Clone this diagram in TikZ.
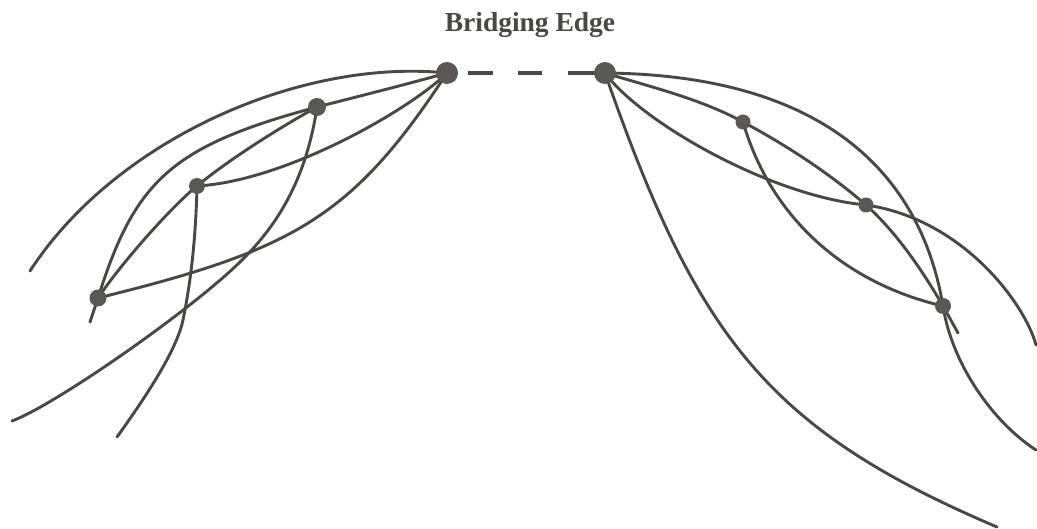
\documentclass[tikz,border=0pt]{standalone}
\usepackage{fontspec}
\setmainfont{Liberation Serif}
\pgfdeclarelayer{bg}
\pgfsetlayers{bg,main}
\definecolor{ink}{HTML}{4A4744}
\definecolor{dotc}{HTML}{5A5754}
\begin{document}
\begin{tikzpicture}[x=1pt,y=-1pt,
  curve/.style={draw=ink, line width=2.9pt, line cap=round},
  dot/.style={circle, fill=dotc, inner sep=0pt, minimum size=#1},
  dot/.default=16pt,
  bridge/.style={draw=ink, line width=4pt, dash pattern={on 0pt off 21pt on 25pt off 25pt on 24pt off 26pt on 60pt}}]
\useasboundingbox (0,0) rectangle (1037,529);

\node[font=\bfseries\fontsize{27.5}{30}\selectfont, text=ink, anchor=base] (title) at (530,32) {Bridging Edge};

% left cluster
\node[dot=22pt] (hubL) at (447,73) {};
\node[dot=18pt] (A) at (317,107) {};
\node[dot=16pt] (B) at (197,186) {};
\node[dot=17pt] (C) at (98,298) {};
% right cluster
\node[dot=22pt] (hubR) at (605,73) {};
\node[dot=15pt] (D) at (743,122) {};
\node[dot=15pt] (E) at (866,205) {};
\node[dot=16pt] (F) at (943,306) {};

% free ends
\coordinate (eO) at (30,271);
\coordinate (eAC) at (90,322);
\coordinate (eA) at (12,421);
\coordinate (eB) at (117,437);
\coordinate (eFt) at (958,333);
\coordinate (eF) at (1036,450);
\coordinate (eE) at (1036,345);
\coordinate (eS) at (997,527);

\begin{pgfonlayer}{bg}
\fill[white] (0,0) rectangle (1037,529);
\draw[curve] (hubL.center) .. controls (300,58) and (115,140) .. (eO);
\draw[curve] (hubL.center) .. controls (404,85) and (360,96) .. (A.center) .. controls (172,146) and (135,180) .. (C.center) -- (eAC);
\draw[curve] (C.center) .. controls (120,265) and (170,208) .. (B.center) .. controls (232,157) and (286,124) .. (A.center);
\draw[curve] (B.center) .. controls (287,181) and (412,108) .. (hubL.center);
\draw[curve] (C.center) .. controls (293,250) and (352,218) .. (hubL.center);
\draw[curve] (A.center) .. controls (306,181) and (276,227) .. (240,262) .. controls (190,311) and (55,405) .. (eA);
\draw[curve] (B.center) .. controls (196,231) and (192,276) .. (183,320) .. controls (176,354) and (137,409) .. (eB);

\draw[bridge] (hubL.center) -- (hubR.center);

\draw[curve] (hubR.center) .. controls (820,75) and (920,170) .. (F.center) .. controls (952,365) and (994,423) .. (eF);
\draw[curve] (hubR.center) .. controls (651,87) and (701,99) .. (D.center) .. controls (786,145) and (829,173) .. (E.center) .. controls (897,233) and (922,270) .. (F.center) -- (eFt);
\draw[curve] (hubR.center) .. controls (641,122) and (770,196) .. (E.center) .. controls (963,219) and (1025,304) .. (eE);
\draw[curve] (D.center) .. controls (774,228) and (856,286) .. (F.center);
\draw[curve] (hubR.center) .. controls (697,337) and (767,429) .. (eS);
\end{pgfonlayer}
\end{tikzpicture}
\end{document}
